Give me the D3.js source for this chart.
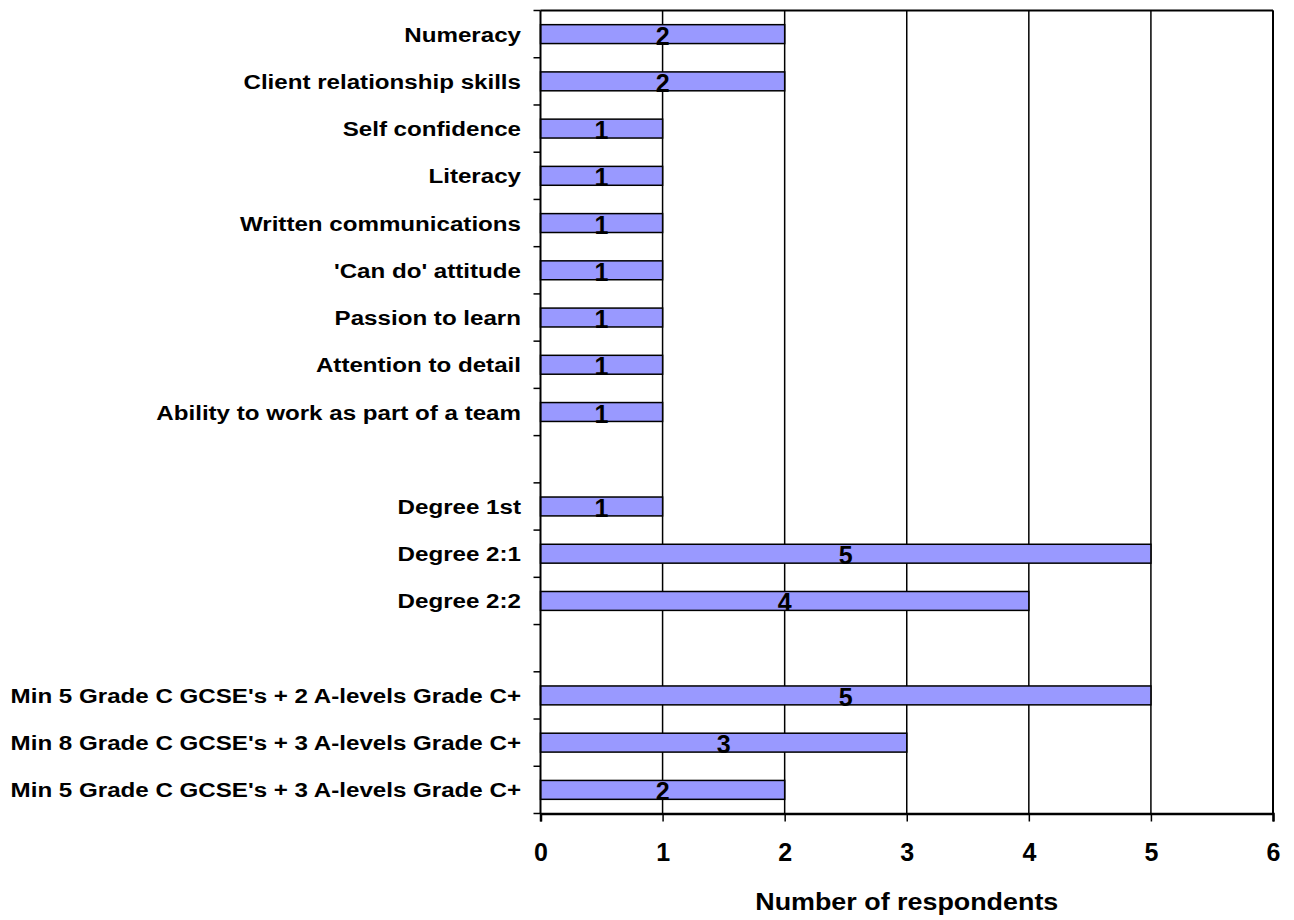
<!DOCTYPE html>
<html>
<head>
<meta charset="utf-8">
<script src="https://cdn.jsdelivr.net/npm/d3@7"></script>
<style>
  html, body { margin: 0; padding: 0; background: #fff; }
  text { font-family: "Liberation Sans", Arial, sans-serif; font-weight: bold; fill: #000; }
</style>
</head>
<body>
<svg id="chart" width="1294" height="920"></svg>
<script>
// Requirements named by employers, top to bottom; empty entries are spacer rows
const categories = [
  "Numeracy",
  "Client relationship skills",
  "Self confidence",
  "Literacy",
  "Written communications",
  "'Can do' attitude",
  "Passion to learn",
  "Attention to detail",
  "Ability to work as part of a team",
  "",
  "Degree 1st",
  "Degree 2:1",
  "Degree 2:2",
  "",
  "Min 5 Grade C GCSE's + 2 A-levels Grade C+",
  "Min 8 Grade C GCSE's + 3 A-levels Grade C+",
  "Min 5 Grade C GCSE's + 3 A-levels Grade C+"
];
const respondents = [2, 2, 1, 1, 1, 1, 1, 1, 1, null, 1, 5, 4, null, 5, 3, 2];
const xTicks = [0, 1, 2, 3, 4, 5, 6];
const xTitle = "Number of respondents";

const svg = d3.select("#chart");
const plot = { left: 540.5, right: 1273, top: 10.5, bottom: 813.5 };

const x = d3.scaleLinear().domain([0, 6]).range([plot.left, plot.right]);
const y = d3.scaleBand()
  .domain(d3.range(categories.length))
  .range([plot.top, plot.bottom])
  .paddingInner(0.6)
  .paddingOuter(0.3);
const step = y.step();
const center = i => y(i) + y.bandwidth() / 2;

// vertical gridlines
svg.append("g").selectAll("line").data(xTicks.slice(1)).join("line")
  .attr("x1", d => x(d)).attr("x2", d => x(d))
  .attr("y1", plot.top).attr("y2", plot.bottom)
  .attr("stroke", "#000").attr("stroke-width", 1.5);

// plot frame top and right
svg.append("line").attr("x1", plot.left).attr("x2", plot.right)
  .attr("y1", plot.top).attr("y2", plot.top)
  .attr("stroke", "#000").attr("stroke-width", 2);
svg.append("line").attr("x1", plot.right).attr("x2", plot.right)
  .attr("y1", plot.top).attr("y2", plot.bottom)
  .attr("stroke", "#000").attr("stroke-width", 2);

// bars
const rows = categories.map((c, i) => ({ c, v: respondents[i], i })).filter(d => d.v != null);
svg.append("g").selectAll("rect").data(rows).join("rect")
  .attr("x", x(0))
  .attr("y", d => y(d.i))
  .attr("width", d => x(d.v) - x(0))
  .attr("height", y.bandwidth())
  .attr("fill", "#9999FF")
  .attr("stroke", "#000")
  .attr("stroke-width", 1.5);

// value labels
svg.append("g").selectAll("text").data(rows).join("text")
  .attr("x", d => (x(0) + x(d.v)) / 2)
  .attr("y", d => center(d.i) + 10.5)
  .attr("text-anchor", "middle")
  .style("font-size", "25px")
  .text(d => d.v);

// left axis with ticks between rows
const boundaries = d3.range(categories.length + 1).map(k => plot.top + k * step);
svg.append("line").attr("x1", plot.left).attr("x2", plot.left)
  .attr("y1", plot.top).attr("y2", plot.bottom)
  .attr("stroke", "#000").attr("stroke-width", 2);
svg.append("g").selectAll("line").data(boundaries).join("line")
  .attr("x1", plot.left - 7).attr("x2", plot.left)
  .attr("y1", d => d).attr("y2", d => d)
  .attr("stroke", "#000").attr("stroke-width", 1.5);

// category labels
svg.append("g").selectAll("text").data(categories.map((c, i) => ({ c, i })).filter(d => d.c))
  .join("text")
  .attr("transform", d => `translate(521,${center(d.i) + 7.5}) scale(1.15,1)`)
  .attr("text-anchor", "end")
  .style("font-size", "21px")
  .text(d => d.c);

// bottom axis
const xAxis = svg.append("g").attr("transform", `translate(0,${plot.bottom})`)
  .call(d3.axisBottom(x).tickValues(xTicks).tickSize(8).tickPadding(22).tickFormat(d3.format("d")));
xAxis.select(".domain").attr("stroke", "#000").attr("stroke-width", 2.5);
xAxis.selectAll(".tick line").attr("stroke", "#000").attr("stroke-width", 1.5);
xAxis.selectAll(".tick text")
  .attr("fill", "#000")
  .style("font-family", "'Liberation Sans', Arial, sans-serif")
  .style("font-weight", "bold")
  .style("font-size", "25px");

// axis title
svg.append("text")
  .attr("transform", `translate(${(plot.left + plot.right) / 2},910) scale(1.12,1)`)
  .attr("text-anchor", "middle")
  .style("font-size", "24px")
  .text(xTitle);
</script>
</body>
</html>
